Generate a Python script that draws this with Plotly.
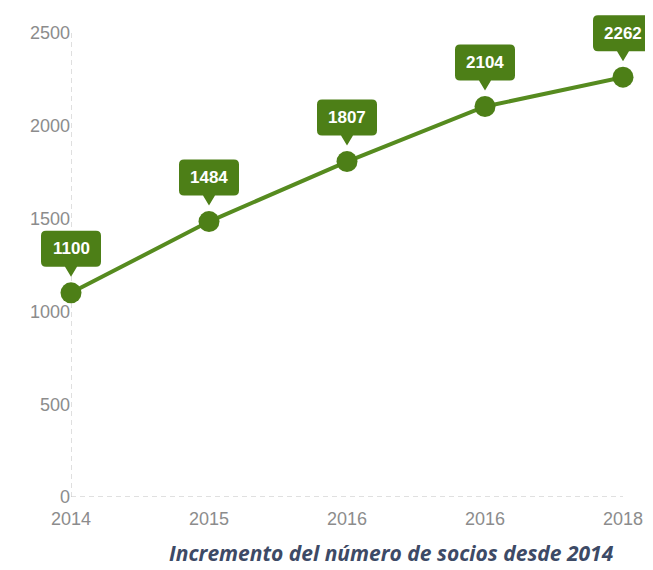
import plotly.graph_objects as go

years = ["2014", "2015", "2016", "2016", "2018"]
socios = [1100, 1484, 1807, 2104, 2262]
y_ticks = [0, 500, 1000, 1500, 2000, 2500]

GREEN_LINE = "#568b1f"
GREEN_BOX = "#4d7f17"
xs = list(range(len(years)))
X_RANGE = [0, len(years) - 1]
Y_RANGE = [0, 2500]

# the page body adds an 8px margin, so the figure is 8px smaller than the window
W, H = 645, 562
ML, MR, MT, MB = 63, 30, 25, 73

fig = go.Figure()
fig.add_trace(go.Scatter(
    x=xs, y=socios, mode="lines+markers",
    line=dict(color=GREEN_LINE, width=4),
    marker=dict(color=GREEN_BOX, size=21),
    cliponaxis=False, hoverinfo="skip", showlegend=False,
))

AXIS_DASH = dict(color="#c0c0c0", width=1, dash="5px,4px")
shapes = [
    dict(type="line", xref="x", yref="y", x0=X_RANGE[0], x1=X_RANGE[1], y0=0, y1=0,
         line=AXIS_DASH, layer="below"),
    dict(type="line", xref="x", yref="y", x0=0, x1=0, y0=Y_RANGE[0], y1=Y_RANGE[1],
         line=AXIS_DASH, layer="below"),
]


def to_paper_x(v):
    return (v - X_RANGE[0]) / (X_RANGE[1] - X_RANGE[0])


def to_paper_y(v):
    return (v - Y_RANGE[0]) / (Y_RANGE[1] - Y_RANGE[0])


# callout boxes (pixel-sized, anchored at each data point)
w, r = 30, 5
b, t, tip, hw = 26, 62, 16, 6
path = (f"M {-w + r},{t} L {w - r},{t} Q {w},{t} {w},{t - r} "
        f"L {w},{b + r} Q {w},{b} {w - r},{b} L {hw},{b} L 0,{tip} L {-hw},{b} "
        f"L {-w + r},{b} Q {-w},{b} {-w},{b + r} L {-w},{t - r} Q {-w},{t} {-w + r},{t} Z")
for xi, v in zip(xs, socios):
    shapes.append(dict(type="path", xref="paper", yref="paper", xsizemode="pixel", ysizemode="pixel",
                       xanchor=to_paper_x(xi), yanchor=to_paper_y(v), path=path,
                       fillcolor=GREEN_BOX, line=dict(width=0), layer="above"))

annotations = []
for xi, v in zip(xs, socios):
    annotations.append(dict(x=xi, y=v, xref="x", yref="y", text=f"<b>{v}</b>",
                            showarrow=False, yshift=(b + t) / 2,
                            font=dict(family="Liberation Sans, Arial", size=17, color="white")))

plot_w = W - ML - MR
plot_h = H - MT - MB
tx, ty = 383, 545
annotations.append(dict(
    x=(tx - ML) / plot_w, y=(H - MB - ty) / plot_h, xref="paper", yref="paper",
    xanchor="center", yanchor="middle",
    text="<b><i>Incremento del número de socios desde 2014</i></b>", showarrow=False,
    font=dict(family="Open Sans, Noto Sans", size=21, color="#3d4a66"),
))

tickfont = dict(family="Liberation Sans, Arial", size=18, color="#8c8c8c")
fig.update_layout(
    width=W, height=H,
    margin=dict(l=ML, r=MR, t=MT, b=MB, autoexpand=False),
    paper_bgcolor="white", plot_bgcolor="white",
    shapes=shapes, annotations=annotations,
    xaxis=dict(range=X_RANGE, tickmode="array", tickvals=xs, ticktext=years,
               showgrid=False, zeroline=False, showline=False,
               ticks="outside", ticklen=5, tickcolor="rgba(0,0,0,0)",
               automargin=False, tickfont=tickfont),
    yaxis=dict(range=Y_RANGE, tickmode="array", tickvals=y_ticks,
               showgrid=False, zeroline=False, showline=False, ticks="",
               automargin=False, tickfont=tickfont),
)

fig.write_html("out.html")
